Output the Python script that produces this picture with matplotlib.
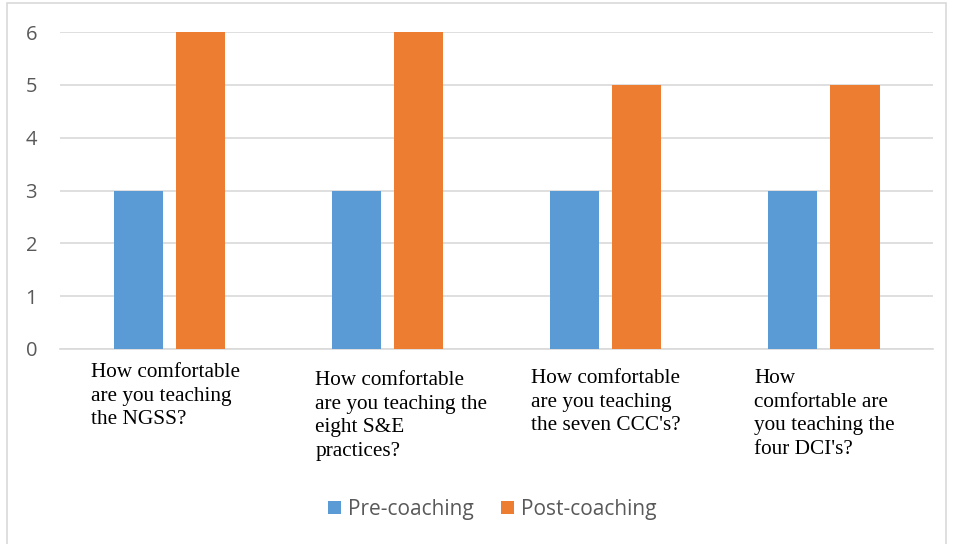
import matplotlib.pyplot as plt
from matplotlib.patches import Rectangle
import numpy as np

# data
categories = [
    "How comfortable\nare you teaching\nthe NGSS?",
    "How comfortable\nare you teaching the\neight S&E\npractices?",
    "How comfortable\nare you teaching\nthe seven CCC's?",
    "How\ncomfortable are\nyou teaching the\nfour DCI's?",
]
pre_coaching = [3, 3, 3, 3]
post_coaching = [6, 6, 5, 5]
y_ticks = [0, 1, 2, 3, 4, 5, 6]

# label placement (left edge offset within category, top in axes fraction)
label_dx = [-0.36, -0.33, -0.34, -0.32]
label_top = [-0.045, -0.07, -0.063, -0.063]

fig = plt.figure(figsize=(9.56, 5.44), dpi=100)
ax = fig.add_axes([0.0628, 0.3585, 0.9132, 0.5825])

x = np.arange(len(categories))
w = 0.225
ax.bar(x - 0.1425, pre_coaching, w, color='#5B9BD5', label='Pre-coaching', zorder=3)
ax.bar(x + 0.1425, post_coaching, w, color='#ED7D31', label='Post-coaching', zorder=3)

ax.set_xlim(-0.5, len(categories) - 0.5)
ax.set_ylim(0, 6)
ax.set_yticks(y_ticks)
ax.set_yticklabels([str(v) for v in y_ticks], fontfamily='Open Sans', fontsize=14.5, color='#595959')
ax.tick_params(axis='y', length=0, pad=16.5)
ax.set_xticks([])
ax.grid(axis='y', color='#D9D9D9', linewidth=1.2, zorder=0)
for s in ['top', 'right', 'left']:
    ax.spines[s].set_visible(False)
ax.spines['bottom'].set_color('#D9D9D9')
ax.spines['bottom'].set_linewidth(1.2)

trans = ax.get_xaxis_transform()
for i, lab in enumerate(categories):
    ax.text(i + label_dx[i], label_top[i], lab, transform=trans, ha='left', va='top',
            fontfamily='Liberation Serif', fontsize=15.3, linespacing=1.33, color='black')

leg = fig.legend(loc='center', bbox_to_anchor=(0.515, 0.064), ncol=2, frameon=False,
                 prop={'family': 'Open Sans', 'size': 15}, handlelength=0.6, handleheight=0.6,
                 handletextpad=0.35, columnspacing=1.32)
for t in leg.get_texts():
    t.set_color('#595959')

fig.patches.append(Rectangle((7 / 956, -0.01), 939 / 956, 1 - 3 / 544 + 0.01, transform=fig.transFigure,
                             fill=False, edgecolor='#D9D9D9', linewidth=1.2))

fig.savefig('out.png', dpi=100)
